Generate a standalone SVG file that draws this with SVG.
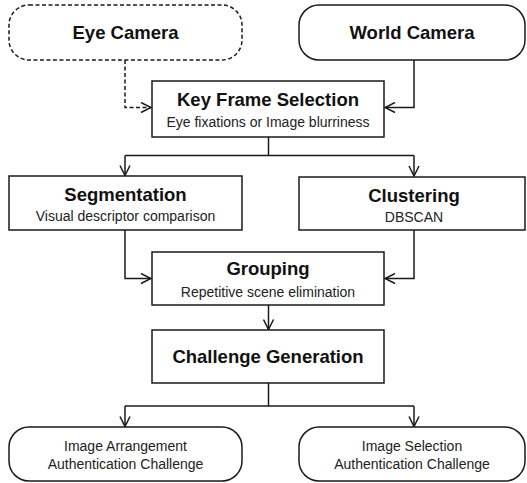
<svg xmlns="http://www.w3.org/2000/svg" width="527" height="483" viewBox="0 0 527 483">
<style>
.box{fill:#fff;stroke:#1a1a1a;stroke-width:1.5}
.dash{fill:#fff;stroke:#1a1a1a;stroke-width:1.5;stroke-dasharray:4 2.5}
.t{font-family:"Liberation Sans",Arial,sans-serif;font-weight:bold;font-size:18.5px;fill:#111;text-anchor:middle}
.s{font-family:"Liberation Sans",Arial,sans-serif;font-size:14px;fill:#222;text-anchor:middle}
.c{fill:none;stroke:#1a1a1a;stroke-width:1.5}
.cd{fill:none;stroke:#1a1a1a;stroke-width:1.5;stroke-dasharray:4 2.5}
</style>
<defs>
<marker id="ah" viewBox="0 0 12 12" refX="11" refY="6" markerWidth="12" markerHeight="12" markerUnits="userSpaceOnUse" orient="auto">
<path d="M1,1 L11,6 L1,11" fill="none" stroke="#1a1a1a" stroke-width="1.5"/>
</marker>
</defs>
<g id="connectors">
<path class="cd" d="M125,60 V107.5 H151" marker-end="url(#ah)"/>
<path class="c" d="M414,60 V107.5 H385" marker-end="url(#ah)"/>
<path class="c" d="M268.5,137 V155.5"/>
<path class="c" d="M125,155.5 H414"/>
<path class="c" d="M125,155.5 V175.5" marker-end="url(#ah)"/>
<path class="c" d="M414,155.5 V176" marker-end="url(#ah)"/>
<path class="c" d="M125,230 V278.5 H151" marker-end="url(#ah)"/>
<path class="c" d="M414,230 V278.5 H385" marker-end="url(#ah)"/>
<path class="c" d="M268.5,305 V329.5" marker-end="url(#ah)"/>
<path class="c" d="M268.5,383 V406"/>
<path class="c" d="M125,406 H414"/>
<path class="c" d="M125,406 V426.5" marker-end="url(#ah)"/>
<path class="c" d="M414,406 V426.5" marker-end="url(#ah)"/>
</g>
<g id="eye-camera">
<rect class="dash" x="9" y="5" width="233" height="55" rx="20" ry="20"/>
<text class="t" x="125.5" y="39">Eye Camera</text>
</g>
<g id="world-camera">
<rect class="box" x="299" y="5" width="226" height="55" rx="20" ry="20"/>
<text class="t" x="412" y="39">World Camera</text>
</g>
<g id="key-frame">
<rect class="box" x="152" y="81" width="232" height="56"/>
<text class="t" x="268" y="106">Key Frame Selection</text>
<text class="s" x="268" y="127">Eye fixations or Image blurriness</text>
</g>
<g id="segmentation">
<rect class="box" x="9" y="176" width="233" height="54"/>
<text class="t" x="125.5" y="201">Segmentation</text>
<text class="s" x="125.5" y="221">Visual descriptor comparison</text>
</g>
<g id="clustering">
<rect class="box" x="299" y="177" width="226" height="53"/>
<text class="t" x="414" y="202">Clustering</text>
<text class="s" x="414" y="222">DBSCAN</text>
</g>
<g id="grouping">
<rect class="box" x="152" y="252" width="232" height="53"/>
<text class="t" x="268" y="275">Grouping</text>
<text class="s" x="268" y="297">Repetitive scene elimination</text>
</g>
<g id="challenge-generation">
<rect class="box" x="152" y="330" width="232" height="53"/>
<text class="t" x="268" y="363">Challenge Generation</text>
</g>
<g id="image-arrangement">
<rect class="box" x="9" y="427" width="233" height="54" rx="20" ry="20"/>
<text class="s" x="125.5" y="451">Image Arrangement</text>
<text class="s" x="125.5" y="469">Authentication Challenge</text>
</g>
<g id="image-selection">
<rect class="box" x="299" y="427" width="226" height="54" rx="20" ry="20"/>
<text class="s" x="412" y="451">Image Selection</text>
<text class="s" x="412" y="469">Authentication Challenge</text>
</g>
</svg>
